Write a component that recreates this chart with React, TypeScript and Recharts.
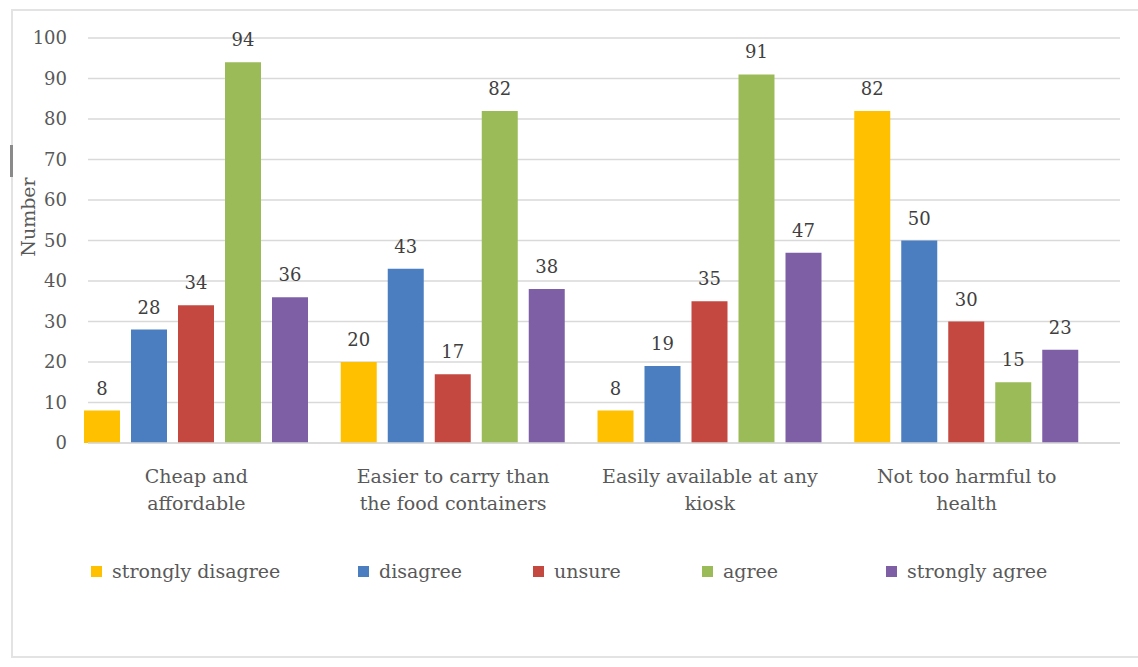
import React from "react";
import { BarChart, Bar, XAxis, YAxis, CartesianGrid, LabelList } from "recharts";

const categories = [
  "Cheap and\naffordable",
  "Easier to carry than\nthe food containers",
  "Easily available at any\nkiosk",
  "Not too harmful to\nhealth",
];
const strongly_disagree = [8, 20, 8, 82];
const disagree = [28, 43, 19, 50];
const unsure = [34, 17, 35, 30];
const agree = [94, 82, 91, 15];
const strongly_agree = [36, 38, 47, 23];
const yTicks = [0, 10, 20, 30, 40, 50, 60, 70, 80, 90, 100];

const seriesNames = ["strongly disagree", "disagree", "unsure", "agree", "strongly agree"];
const seriesKeys = ["sd", "d", "u", "a", "sa"];
const seriesValues = [strongly_disagree, disagree, unsure, agree, strongly_agree];
const colors = ["#FFC000", "#4A7EC0", "#C4483F", "#9BBB59", "#7E5FA6"];
const legendX = [91, 358, 533, 702, 886];

const data = categories.map((c, i) => {
  const row: any = { name: c };
  seriesKeys.forEach((k, j) => (row[k] = seriesValues[j][i]));
  return row;
});

const FONT = "'DejaVu Serif', serif";

const CategoryTick = (props: any) => {
  const { x, y, payload } = props;
  const lines = String(payload.value).split("\n");
  return (
    <text x={x} y={y} textAnchor="middle" fill="#595959" fontFamily={FONT} fontSize={19}>
      {lines.map((l, i) => (
        <tspan key={i} x={x} y={y + 40 + i * 27}>
          {l}
        </tspan>
      ))}
    </text>
  );
};

export default function App() {
  return (
    <div
      style={{
        position: "absolute",
        left: 0,
        top: 0,
        width: 1138,
        height: 667,
        background: "#fff",
        overflow: "hidden",
        fontFamily: FONT,
      }}
    >
      <div
        style={{
          position: "absolute",
          left: 11,
          top: 9,
          width: 1140,
          height: 649,
          border: "2px solid #e3e3e3",
          boxSizing: "border-box",
        }}
      />
      <div style={{ position: "absolute", left: 10, top: 145, width: 3, height: 32, background: "#8a8a8a" }} />
      <div style={{ position: "absolute", left: 0, top: 0 }}>
        <BarChart
          width={1138}
          height={667}
          data={data}
          margin={{ top: 38, right: 18, bottom: 0, left: 0 }}
          barSize={36}
          barGap={11}
        >
          <CartesianGrid horizontal vertical={false} stroke="#d9d9d9" strokeWidth={1.5} />
          <XAxis
            dataKey="name"
            height={224}
            axisLine={{ stroke: "#d9d9d9", strokeWidth: 1.5 }}
            tickLine={false}
            tickSize={0}
            tickMargin={0}
            padding={{ left: -20, right: 25 }}
            tick={<CategoryTick />}
            interval={0}
          />
          <YAxis
            width={88}
            domain={[0, 100]}
            ticks={yTicks}
            axisLine={false}
            tickLine={false}
            tickSize={0}
            tickMargin={21}
            tick={{ fill: "#595959", fontFamily: FONT, fontSize: 18 }}
            label={{
              content: () => (
                <text
                  transform="translate(35,217) rotate(-90)"
                  textAnchor="middle"
                  fill="#595959"
                  fontFamily={FONT}
                  fontSize={19}
                >
                  Number
                </text>
              ),
            }}
          />
          {seriesKeys.map((k, j) => (
            <Bar key={k} dataKey={k} name={seriesNames[j]} fill={colors[j]} isAnimationActive={false}>
              <LabelList
                dataKey={k}
                position="top"
                offset={16}
                fill="#404040"
                fontFamily={FONT}
                fontSize={18}
              />
            </Bar>
          ))}
        </BarChart>
      </div>
      {seriesNames.map((n, j) => (
        <div
          key={n}
          style={{
            position: "absolute",
            left: legendX[j],
            top: 557,
            height: 28,
            display: "flex",
            alignItems: "center",
            whiteSpace: "nowrap",
          }}
        >
          <span style={{ display: "inline-block", width: 11, height: 11, background: colors[j], marginRight: 10 }} />
          <span style={{ fontSize: 19, color: "#595959", fontFamily: FONT }}>{n}</span>
        </div>
      ))}
    </div>
  );
}
